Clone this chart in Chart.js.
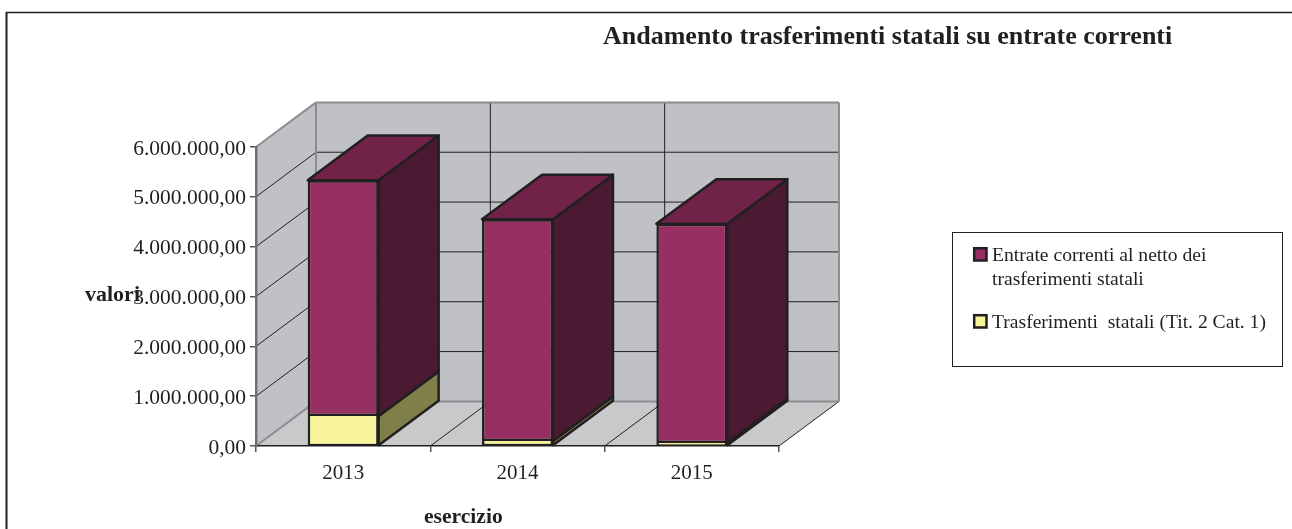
<!DOCTYPE html>
<html>
<head>
<meta charset="utf-8">
<style>
  html, body { margin: 0; padding: 0; background: #fff; }
  canvas { display: block; }
</style>
<script src="https://cdn.jsdelivr.net/npm/chart.js@4"></script>
</head>
<body>
<canvas id="myChart" width="1292" height="529"></canvas>
<script>
// DATA
const categories = ['2013', '2014', '2015'];
const trasferimenti = [600000, 100000, 60000];
const entrateNette = [4735000, 4450000, 4400000];
const tickLabels = ['0,00', '1.000.000,00', '2.000.000,00', '3.000.000,00', '4.000.000,00', '5.000.000,00', '6.000.000,00'];
const legendLines = [
	['Entrate correnti al netto dei', 'trasferimenti statali'],
	['Trasferimenti  statali (Tit. 2 Cat. 1)']
];

const SERIF = '"Liberation Serif", "Times New Roman", serif';
const INK = '#231F20';
const WALL_LINE = '#8C8D90';
// how far the 3d box goes back
const DX = 60;
const DY = 44.6;

function poly(ctx, pts, fill, stroke, lw) {
	ctx.beginPath();
	pts.forEach((p, i) => i ? ctx.lineTo(p[0], p[1]) : ctx.moveTo(p[0], p[1]));
	ctx.closePath();
	if (fill) { ctx.fillStyle = fill; ctx.fill(); }
	if (stroke) { ctx.strokeStyle = stroke; ctx.lineWidth = lw; ctx.lineJoin = 'round'; ctx.stroke(); }
}

function line(ctx, x1, y1, x2, y2, color, lw) {
	ctx.beginPath();
	ctx.moveTo(x1, y1);
	ctx.lineTo(x2, y2);
	ctx.strokeStyle = color;
	ctx.lineWidth = lw;
	ctx.stroke();
}

function text(ctx, str, x, y, font, align) {
	ctx.font = font;
	ctx.fillStyle = INK;
	ctx.textAlign = align || 'left';
	ctx.textBaseline = 'alphabetic';
	ctx.fillText(str, x, y);
}

// WALLS AND FLOOR, under the scales
const walls = {
	id: 'walls',
	beforeDraw(chart) {
		const ctx = chart.ctx;
		const a = chart.chartArea;
		const x = chart.scales.x;
		const y = chart.scales.y;
		ctx.save();

		// outer frame, open on the right
		line(ctx, 6, 12.5, 1292, 12.5, INK, 1.5);
		line(ctx, 6.5, 12, 6.5, 529, INK, 2);

		// floor
		poly(ctx, [[a.left, a.bottom], [a.left + DX, a.bottom - DY], [a.right + DX, a.bottom - DY], [a.right, a.bottom]], '#C8C9CB');
		// side wall
		poly(ctx, [[a.left, a.bottom], [a.left + DX, a.bottom - DY], [a.left + DX, a.top - DY], [a.left, a.top]], '#C0C1C5');
		// back wall
		poly(ctx, [[a.left + DX, a.top - DY], [a.right + DX, a.top - DY], [a.right + DX, a.bottom - DY], [a.left + DX, a.bottom - DY]], '#C0C1C5');

		// horizontal grid, side wall + back wall
		y.ticks.forEach(t => {
			const py = y.getPixelForValue(t.value);
			if (t.value === 0 || t.value === 6000000) return;
			line(ctx, a.left, py, a.left + DX, py - DY, INK, 1);
			line(ctx, a.left + DX, py - DY, a.right + DX, py - DY, INK, 1);
		});

		// vertical grid on the back wall + floor lines, between the categories
		for (let i = 1; i < categories.length; i++) {
			const px = (x.getPixelForValue(i - 1) + x.getPixelForValue(i)) / 2;
			line(ctx, px + DX, a.top - DY, px + DX, a.bottom - DY, INK, 1);
			line(ctx, px, a.bottom, px + DX, a.bottom - DY, INK, 1);
		}
		line(ctx, a.right, a.bottom, a.right + DX, a.bottom - DY, INK, 1);

		// thick grey edges
		line(ctx, a.left, a.top, a.left + DX, a.top - DY, WALL_LINE, 2);
		line(ctx, a.left + DX, a.top - DY, a.right + DX, a.top - DY, WALL_LINE, 2);
		line(ctx, a.right + DX, a.top - DY, a.right + DX, a.bottom - DY, WALL_LINE, 2);
		line(ctx, a.left + DX, a.top - DY, a.left + DX, a.bottom - DY, WALL_LINE, 2);
		line(ctx, a.left + DX, a.bottom - DY, a.right + DX, a.bottom - DY, WALL_LINE, 2);
		line(ctx, a.left, a.bottom, a.left + DX, a.bottom - DY, WALL_LINE, 2);
		ctx.restore();
	}
};

// SIDE AND TOP FACES OF THE BARS
const barDepth = {
	id: 'barDepth',
	beforeDatasetsDraw(chart) {
		const ctx = chart.ctx;
		ctx.save();
		categories.forEach((c, i) => {
			chart.data.datasets.forEach((ds, d) => {
				const bar = chart.getDatasetMeta(d).data[i];
				const right = bar.x + bar.width / 2;
				const left = bar.x - bar.width / 2;
				poly(ctx, [[right, bar.y], [right + DX, bar.y - DY], [right + DX, bar.base - DY], [right, bar.base]], ds.sideColor, INK, 2.5);
				if (d === chart.data.datasets.length - 1) {
					poly(ctx, [[left, bar.y], [left + DX, bar.y - DY], [right + DX, bar.y - DY], [right, bar.y]], ds.topColor, INK, 2.5);
				}
			});
		});
		ctx.restore();
	}
};

// TITLES AND LEGEND BOX
const labels = {
	id: 'labels',
	afterDraw(chart) {
		const ctx = chart.ctx;
		ctx.save();
		text(ctx, 'Andamento trasferimenti statali su entrate correnti', 603, 44, 'bold 26px ' + SERIF);
		text(ctx, 'valori', 85, 301, 'bold 22px ' + SERIF);
		text(ctx, 'esercizio', 424, 523, 'bold 21.6px ' + SERIF);

		ctx.strokeStyle = INK;
		ctx.lineWidth = 1;
		ctx.strokeRect(952.5, 232.5, 330, 134);

		const entries = [
			{ ds: chart.data.datasets[1], box: 248.2, lines: legendLines[0], first: 261 },
			{ ds: chart.data.datasets[0], box: 315.2, lines: legendLines[1], first: 328 }
		];
		entries.forEach(e => {
			ctx.fillStyle = e.ds.backgroundColor;
			ctx.fillRect(974.2, e.box, 12.3, 12.3);
			ctx.lineWidth = 2.5;
			ctx.strokeStyle = INK;
			ctx.strokeRect(974.2, e.box, 12.3, 12.3);
			e.lines.forEach((l, n) => text(ctx, l, 992, e.first + n * 24, '19.6px ' + SERIF));
		});
		ctx.restore();
	}
};

let chart = new Chart(document.getElementById('myChart').getContext('2d'), {
	type: 'bar',
	data: {
		labels: categories,
		datasets: [{
			label: legendLines[1][0],
			data: trasferimenti,
			backgroundColor: '#F6F39B',
			sideColor: '#7F7F4A',
			topColor: '#7F7F4A',
			borderColor: INK,
			// top line comes from the bar above, so thin bars keep some yellow
			borderWidth: { left: 2.5, right: 2.5, top: 0, bottom: 1.5 },
			borderSkipped: false
		}, {
			label: legendLines[0].join(' '),
			data: entrateNette,
			backgroundColor: '#972F62',
			sideColor: '#4A1A32',
			topColor: '#712248',
			borderColor: INK,
			borderWidth: 2.5,
			borderSkipped: false
		}]
	},
	options: {
		responsive: false,
		animation: false,
		layout: { padding: { top: 147, right: 513, left: 0, bottom: 0 } },
		datasets: { bar: { categoryPercentage: 1, barPercentage: 0.407 } },
		plugins: { legend: { display: false }, title: { display: false }, tooltip: { enabled: false } },
		scales: {
			x: {
				stacked: true,
				afterFit(scale) { scale.height = 83; },
				border: { color: INK, width: 1.5 },
				grid: { offset: true, drawOnChartArea: false, tickLength: 6, color: '#555', lineWidth: 1.5 },
				ticks: { color: INK, padding: 9, maxRotation: 0, font: { family: SERIF, size: 21 } }
			},
			y: {
				stacked: true,
				min: 0,
				max: 6000000,
				afterFit(scale) { scale.width = 256; },
				border: { color: '#6D6E71', width: 2.4 },
				grid: { drawOnChartArea: false, tickLength: 6, color: '#555', lineWidth: 1.5 },
				ticks: {
					stepSize: 1000000,
					color: INK,
					padding: 4,
					// empty first line + small lineHeight pushes the label 2px down
					font: { family: SERIF, size: 21.5, lineHeight: '4px' },
					callback: (v, i) => ['', tickLabels[i]]
				}
			}
		}
	},
	plugins: [walls, barDepth, labels]
});
</script>
</body>
</html>
